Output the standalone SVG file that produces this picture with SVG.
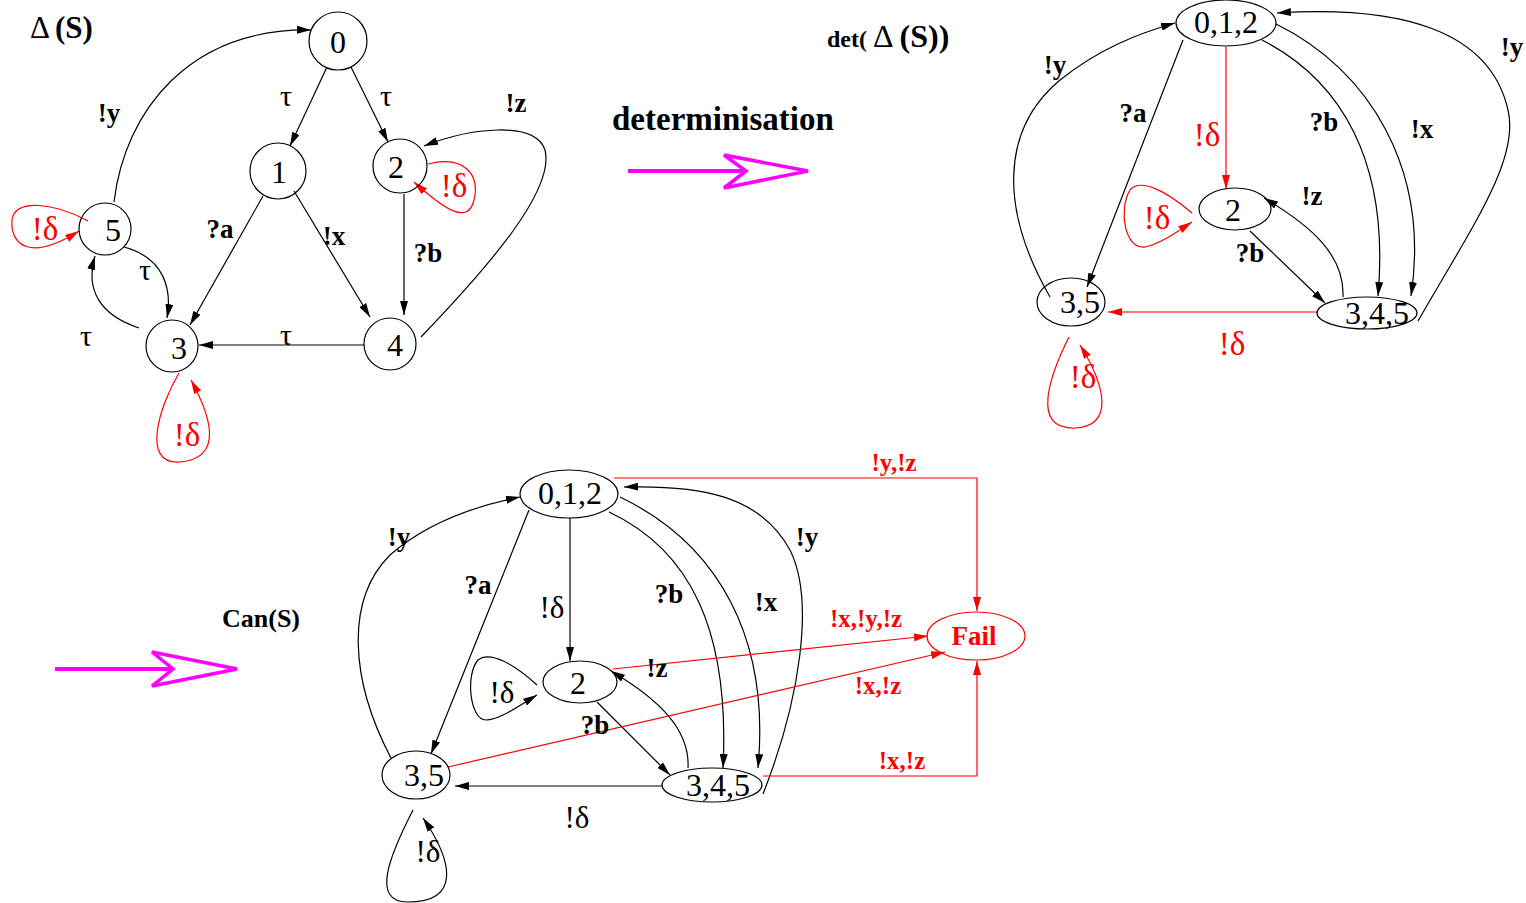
<svg xmlns="http://www.w3.org/2000/svg" width="1526" height="903" viewBox="0 0 1526 903">
<style>
text{font-family:"Liberation Serif","Times New Roman",serif;}
.n{fill:none;stroke:#000;stroke-width:1.2}
.nr{fill:none;stroke:#f00;stroke-width:1.2}
.nt{font-size:32px;text-anchor:middle;fill:#000}
.e{fill:none;stroke:#000;stroke-width:1.2;marker-end:url(#ab)}
.er{fill:none;stroke:#f00;stroke-width:1.2;marker-end:url(#ar)}
.lb{font-size:27px;font-weight:bold;fill:#000;text-anchor:middle}
.lt{font-size:30px;fill:#000;text-anchor:middle}
.ld{font-size:31px;fill:#000;text-anchor:middle}
.ldr{font-size:33px;fill:#f00;text-anchor:middle}
.lr{font-size:25px;font-weight:bold;fill:#f00;text-anchor:middle}
.mg{fill:none;stroke:#f0f;stroke-width:4}
</style>
<defs>
<marker id="ab" viewBox="0 0 14 8" refX="14" refY="4" markerWidth="14" markerHeight="8" orient="auto" markerUnits="userSpaceOnUse"><path d="M0,0 L14,4 L0,8 z" fill="#000"/></marker>
<marker id="ar" viewBox="0 0 14 8" refX="14" refY="4" markerWidth="14" markerHeight="8" orient="auto" markerUnits="userSpaceOnUse"><path d="M0,0 L14,4 L0,8 z" fill="#f00"/></marker>
</defs>

<!-- titles -->
<text x="30" y="38" font-size="31"><tspan>Δ</tspan><tspan font-weight="bold" dx="5">(S)</tspan></text>
<text x="612" y="130" font-size="33" font-weight="bold">determinisation</text>
<text x="827" y="47" font-weight="bold"><tspan font-size="24">det(</tspan><tspan font-size="32" font-weight="normal" dx="6">Δ</tspan><tspan font-size="32" dx="6">(S))</tspan></text>
<text x="222" y="627" font-size="26" font-weight="bold">Can(S)</text>

<g id="arrow-det">
<path class="mg" d="M628 171 L744 171"/>
<path d="M808 171 L724 155 L746 171 L724 188 Z" fill="none" stroke="#f0f" stroke-width="3.5" stroke-linejoin="miter"/>
</g>
<g id="arrow-can">
<path class="mg" d="M55 669 L171 669"/>
<path d="M237 669 L152 652 L173 669 L152 686 Z" fill="none" stroke="#f0f" stroke-width="3.5" stroke-linejoin="miter"/>
</g>

<!-- ========== Delta(S) ========== -->
<g id="connectors-delta">
<path class="e" d="M114 202 C125 110 190 28 311 30"/>
<path class="e" d="M327 67 L290 146"/>
<path class="e" d="M351 67 L388 142"/>
<path class="e" d="M404 194 L404 315"/>
<path class="e" d="M263 196 L190 325"/>
<path class="e" d="M294 191 L370 317"/>
<path class="e" d="M364 345 L199 345"/>
<path class="e" d="M421 337 C490 265 555 190 545 150 C535 120 470 128 424 146"/>
<path class="e" d="M124 247 C165 258 172 290 167 318"/>
<path class="e" d="M139 328 C100 315 85 290 95 256"/>
<path class="er" d="M428 164 C465 155 480 175 474 200 C468 225 445 210 414 182"/>
<path class="er" d="M88 221 C55 203 15 198 12 220 C10 245 30 262 79 231"/>
<path class="er" d="M179 373 C160 405 140 465 180 462 C225 458 210 415 191 380"/>
</g>
<g id="labels-delta">
<text class="lb" x="109" y="122">!y</text>
<text class="lt" x="286" y="106">τ</text>
<text class="lt" x="386" y="106">τ</text>
<text class="lb" x="516" y="112">!z</text>
<text class="lb" x="220" y="238">?a</text>
<text class="lb" x="334" y="245">!x</text>
<text class="lb" x="428" y="262">?b</text>
<text class="lt" x="286" y="345">τ</text>
<text class="lt" x="145" y="280">τ</text>
<text class="lt" x="86" y="346">τ</text>
<text class="ldr" x="454" y="197">!δ</text>
<text class="ldr" x="45" y="240">!δ</text>
<text class="ldr" x="187" y="446">!δ</text>
</g>
<g id="d0"><circle class="n" cx="338" cy="41" r="29"/><text class="nt" x="338" y="53">0</text></g>
<g id="d1"><circle class="n" cx="278" cy="171" r="28"/><text class="nt" x="279" y="183">1</text></g>
<g id="d2"><circle class="n" cx="400" cy="166" r="27"/><text class="nt" x="396" y="178">2</text></g>
<g id="d5"><circle class="n" cx="105" cy="229" r="26"/><text class="nt" x="113" y="241">5</text></g>
<g id="d3"><circle class="n" cx="172" cy="346" r="26"/><text class="nt" x="179" y="359">3</text></g>
<g id="d4"><circle class="n" cx="390" cy="344" r="26"/><text class="nt" x="395" y="356">4</text></g>

<!-- ========== det(Delta(S)) ========== -->
<g id="connectors-det">
<path class="e" d="M1050 297 C1000 210 1000 130 1060 80 C1100 48 1140 33 1175 23"/>
<path class="e" d="M1183 40 L1087 287"/>
<path class="er" d="M1226 47 L1226 189"/>
<path class="e" d="M1262 40 C1340 80 1390 160 1378 296"/>
<path class="e" d="M1276 24 C1370 70 1430 170 1411 296"/>
<path class="e" d="M1418 321 C1470 230 1520 160 1508 110 C1490 30 1400 5 1277 13"/>
<path class="e" d="M1343 297 C1345 255 1310 225 1264 198"/>
<path class="e" d="M1250 231 L1325 303"/>
<path class="er" d="M1318 312 L1108 312"/>
<path class="er" d="M1192 213 C1165 190 1140 178 1130 190 C1118 210 1125 250 1145 247 C1160 244 1175 233 1192 222"/>
<path class="er" d="M1069 337 C1050 375 1030 430 1075 428 C1115 426 1105 385 1080 345"/>
</g>
<g id="labels-det">
<text class="lb" x="1055" y="74">!y</text>
<text class="lb" x="1133" y="122">?a</text>
<text class="ldr" x="1207" y="146">!δ</text>
<text class="lb" x="1324" y="131">?b</text>
<text class="lb" x="1422" y="138">!x</text>
<text class="lb" x="1512" y="56">!y</text>
<text class="lb" x="1312" y="205">!z</text>
<text class="lb" x="1250" y="262">?b</text>
<text class="ldr" x="1232" y="355">!δ</text>
<text class="ldr" x="1157" y="229">!δ</text>
<text class="ldr" x="1083" y="388">!δ</text>
</g>
<g id="t012"><ellipse class="n" cx="1226" cy="23" rx="50" ry="23"/><text class="nt" x="1226" y="33">0,1,2</text></g>
<g id="t2"><ellipse class="n" cx="1235" cy="209" rx="36" ry="21"/><text class="nt" x="1233" y="221">2</text></g>
<g id="t35"><ellipse class="n" cx="1071" cy="302" rx="34" ry="24"/><text class="nt" x="1080" y="313">3,5</text></g>
<g id="t345"><ellipse class="n" cx="1367" cy="313" rx="50" ry="16"/><text class="nt" x="1377" y="324">3,4,5</text></g>

<!-- ========== Can(S) ========== -->
<g id="connectors-can">
<path class="e" d="M391 758 C350 680 345 600 390 555 C430 520 480 505 520 497"/>
<path class="e" d="M529 510 L431 754"/>
<path class="e" d="M570 518 L570 661"/>
<path class="e" d="M609 512 C690 550 730 630 723 768"/>
<path class="e" d="M620 497 C720 545 770 640 758 768"/>
<path class="e" d="M763 794 C800 700 815 600 790 550 C760 495 700 485 624 487"/>
<path class="e" d="M688 768 C690 730 660 700 611 671"/>
<path class="e" d="M597 702 L670 775"/>
<path class="e" d="M662 786 L455 786"/>
<path class="e" d="M537 685 C515 665 490 650 478 660 C465 675 470 720 486 720 C500 720 520 705 537 695"/>
<path class="e" d="M413 810 C390 855 370 902 408 902 C462 902 452 860 423 818"/>
<path class="er" d="M614 478 L977 478 L977 611"/>
<path class="er" d="M613 669 L928 636"/>
<path class="er" d="M448 767 L945 652"/>
<path class="er" d="M763 776 L977 776 L977 661"/>
</g>
<g id="labels-can">
<text class="lb" x="399" y="546">!y</text>
<text class="lb" x="478" y="594">?a</text>
<text class="ld" x="552" y="618">!δ</text>
<text class="lb" x="669" y="603">?b</text>
<text class="lb" x="766" y="611">!x</text>
<text class="lb" x="807" y="546">!y</text>
<text class="lb" x="657" y="677">!z</text>
<text class="lb" x="595" y="734">?b</text>
<text class="ld" x="577" y="828">!δ</text>
<text class="ld" x="502" y="703">!δ</text>
<text class="ld" x="428" y="862">!δ</text>
<text class="lr" x="894" y="471">!y,!z</text>
<text class="lr" x="866" y="627">!x,!y,!z</text>
<text class="lr" x="878" y="694">!x,!z</text>
<text class="lr" x="902" y="769">!x,!z</text>
</g>
<g id="c012"><ellipse class="n" cx="569" cy="494" rx="49" ry="24"/><text class="nt" x="570" y="504">0,1,2</text></g>
<g id="c2"><ellipse class="n" cx="580" cy="682" rx="37" ry="21"/><text class="nt" x="578" y="694">2</text></g>
<g id="c35"><ellipse class="n" cx="416" cy="775" rx="34" ry="24"/><text class="nt" x="424" y="786">3,5</text></g>
<g id="c345"><ellipse class="n" cx="712" cy="785" rx="50" ry="17"/><text class="nt" x="718" y="796">3,4,5</text></g>
<g id="cfail"><ellipse class="nr" cx="976" cy="636" rx="49" ry="24"/><text x="974" y="645" font-size="27" font-weight="bold" fill="#f00" text-anchor="middle">Fail</text></g>
</svg>
